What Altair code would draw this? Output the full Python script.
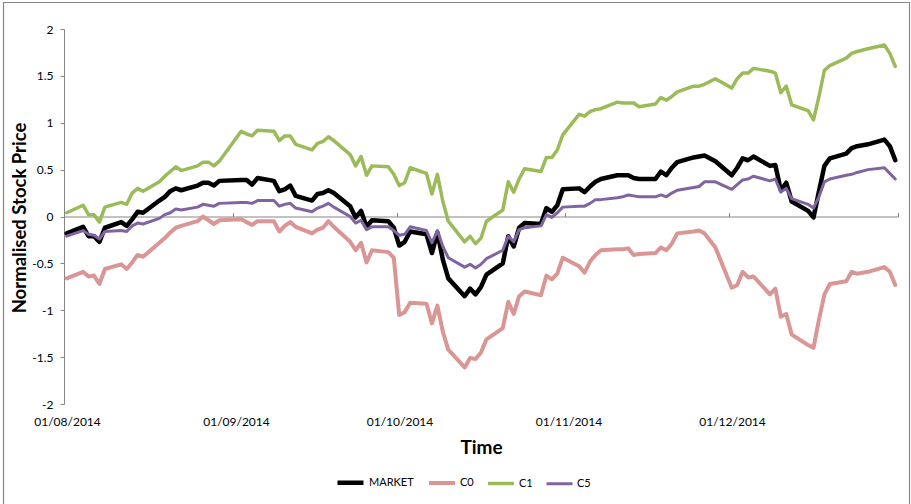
import altair as alt
import pandas as pd

# Trading days per month (US market calendar, Aug-Dec 2014)
AUG_DAYS = [1, 4, 5, 6, 7, 8, 11, 12, 13, 14, 15, 18, 19, 20, 21, 22, 25, 26, 27, 28, 29]
SEP_DAYS = [2, 3, 4, 5, 8, 9, 10, 11, 12, 15, 16, 17, 18, 19, 22, 23, 24, 25, 26, 29, 30]
OCT_DAYS = [1, 2, 3, 6, 7, 8, 9, 10, 13, 14, 15, 16, 17, 20, 21, 22, 23, 24, 27, 28, 29, 30, 31]
NOV_DAYS = [3, 4, 5, 6, 7, 10, 11, 12, 13, 14, 17, 18, 19, 20, 21, 24, 25, 26, 28]
DEC_DAYS = [1, 2, 3, 4, 5, 8, 9, 10, 11, 12, 15, 16, 17, 18, 19, 22, 23, 24, 26, 29, 30, 31]

# Normalised prices, one value per trading day
MARKET = [
    -0.18, -0.11, -0.21, -0.21, -0.27, -0.12, -0.06, -0.10, -0.03, 0.05, 0.04, 0.17, 0.21, 0.27, 0.30, 0.28, 0.33, 0.36, 0.36, 0.33, 0.38,
    0.39, 0.39, 0.34, 0.41, 0.38, 0.27, 0.29, 0.33, 0.22, 0.17, 0.24, 0.25, 0.28, 0.25, 0.11, -0.01, 0.06, -0.11, -0.04, -0.05, -0.12,
    -0.31, -0.27, -0.16, -0.19, -0.39, -0.17, -0.46, -0.66, -0.85, -0.77, -0.83, -0.75, -0.62, -0.50, -0.21, -0.32, -0.12, -0.07, -0.08, 0.09, 0.05, 0.12, 0.29,
    0.30, 0.26, 0.32, 0.37, 0.40, 0.44, 0.44, 0.44, 0.41, 0.40, 0.40, 0.48, 0.44, 0.52, 0.58, 0.63, 0.64, 0.65, 0.59,
    0.44, 0.52, 0.62, 0.60, 0.64, 0.54, 0.55, 0.28, 0.36, 0.16, 0.06, -0.01, 0.27, 0.54, 0.62, 0.67, 0.73, 0.75, 0.77, 0.82, 0.75, 0.60,
]
C0 = [
    -0.66, -0.59, -0.64, -0.63, -0.72, -0.56, -0.51, -0.56, -0.49, -0.41, -0.43, -0.28, -0.23, -0.17, -0.12, -0.10, -0.05, 0.00, -0.04, -0.08, -0.04,
    -0.03, -0.06, -0.09, -0.05, -0.05, -0.16, -0.10, -0.06, -0.11, -0.18, -0.14, -0.12, -0.05, -0.11, -0.27, -0.36, -0.28, -0.49, -0.36, -0.38, -0.44,
    -1.05, -1.02, -0.92, -0.93, -1.14, -0.95, -1.23, -1.42, -1.61, -1.51, -1.52, -1.45, -1.31, -1.19, -0.91, -1.04, -0.85, -0.80, -0.84, -0.63, -0.67, -0.61, -0.44,
    -0.53, -0.60, -0.48, -0.41, -0.36, -0.35, -0.35, -0.34, -0.41, -0.40, -0.39, -0.33, -0.36, -0.29, -0.18, -0.16, -0.15, -0.18, -0.33,
    -0.76, -0.73, -0.59, -0.65, -0.64, -0.83, -0.77, -1.07, -1.04, -1.26, -1.37, -1.40, -1.10, -0.83, -0.72, -0.69, -0.59, -0.61, -0.59, -0.54, -0.59, -0.73,
]
C1 = [
    0.04, 0.12, 0.02, 0.02, -0.06, 0.10, 0.15, 0.13, 0.25, 0.30, 0.27, 0.37, 0.43, 0.48, 0.53, 0.49, 0.54, 0.58, 0.58, 0.54, 0.59,
    0.91, 0.88, 0.86, 0.92, 0.91, 0.81, 0.86, 0.86, 0.77, 0.71, 0.78, 0.80, 0.85, 0.81, 0.66, 0.54, 0.64, 0.44, 0.54, 0.53, 0.45,
    0.33, 0.36, 0.52, 0.46, 0.24, 0.45, 0.16, -0.05, -0.27, -0.21, -0.29, -0.23, -0.05, 0.07, 0.37, 0.26, 0.40, 0.51, 0.48, 0.63, 0.63, 0.71, 0.87,
    1.09, 1.07, 1.12, 1.14, 1.15, 1.22, 1.21, 1.21, 1.21, 1.17, 1.20, 1.27, 1.24, 1.28, 1.33, 1.39, 1.39, 1.41, 1.47,
    1.37, 1.47, 1.53, 1.53, 1.58, 1.55, 1.53, 1.32, 1.39, 1.19, 1.13, 1.03, 1.28, 1.56, 1.61, 1.69, 1.74, 1.76, 1.79, 1.83, 1.74, 1.60,
]
C5 = [
    -0.21, -0.15, -0.19, -0.20, -0.24, -0.16, -0.15, -0.16, -0.10, -0.07, -0.08, -0.02, 0.02, 0.04, 0.08, 0.07, 0.10, 0.13, 0.12, 0.11, 0.14,
    0.15, 0.15, 0.14, 0.17, 0.17, 0.11, 0.13, 0.14, 0.09, 0.05, 0.09, 0.11, 0.14, 0.10, 0.00, -0.07, -0.04, -0.14, -0.11, -0.11, -0.15,
    -0.20, -0.19, -0.11, -0.15, -0.28, -0.15, -0.32, -0.44, -0.54, -0.51, -0.55, -0.51, -0.45, -0.36, -0.21, -0.27, -0.14, -0.12, -0.10, 0.02, -0.01, 0.04, 0.10,
    0.11, 0.11, 0.14, 0.18, 0.18, 0.20, 0.21, 0.23, 0.22, 0.21, 0.21, 0.23, 0.21, 0.25, 0.28, 0.31, 0.32, 0.37, 0.37,
    0.29, 0.34, 0.39, 0.40, 0.43, 0.38, 0.40, 0.26, 0.30, 0.19, 0.13, 0.09, 0.21, 0.37, 0.40, 0.44, 0.45, 0.47, 0.50, 0.52, 0.46, 0.40,
]

SERIES_NAMES = ["MARKET", "C0", "C1", "C5"]
SERIES_COLORS = ["#000000", "#D99694", "#9BBB59", "#8064A2"]
SERIES_WIDTHS = [4.5, 3, 3, 3]
Y_TICKS = [-2, -1.5, -1, -0.5, 0, 0.5, 1, 1.5, 2]

# Build the long-form table; each price sits at mid-day of its trading date
dates = []
for month, days in [(8, AUG_DAYS), (9, SEP_DAYS), (10, OCT_DAYS), (11, NOV_DAYS), (12, DEC_DAYS)]:
    dates += [f"2014-{month:02d}-{d:02d}T12:00:00" for d in days]

rows = []
for name, vals in zip(SERIES_NAMES, [MARKET, C0, C1, C5]):
    for dt, v in zip(dates, vals):
        rows.append({"date": dt, "series": name, "value": v})
df = pd.DataFrame(rows)

GRAY = "#868686"
FONT = "Lato"
W, H = 834, 375

month_starts = [alt.DateTime(year=2014, month=m, date=1) for m in (8, 9, 10, 11, 12)]
x_domain = [alt.DateTime(year=2014, month=8, date=1), alt.DateTime(year=2015, month=1, date=1)]
x_scale = alt.Scale(domain=x_domain)
y_scale = alt.Scale(domain=[-2, 2], nice=False, zero=False)

# Horizontal axis line crosses at zero, with upward month ticks
zero_axis = alt.Axis(
    orient="top", offset=-H / 2, labels=False, title=None, grid=False,
    values=month_starts + [alt.DateTime(year=2015, month=1, date=1)],
    tickSize=4, tickColor=GRAY, domainColor=GRAY, tickWidth=1, domainWidth=1,
)
# Date labels and the axis title sit below the plot
label_axis = alt.Axis(
    orient="bottom", domain=False, ticks=False, grid=False,
    values=month_starts, format="%d/%m/%Y", labelPadding=12, labelFlush=False,
    labelAlign="center", labelOffset=3,
    labelFont=FONT, labelFontSize=12, labelColor="#000000",
    title="Time", titleFont=FONT, titleFontSize=19, titleFontWeight="bold",
    titleColor="#000000", titleBaseline="alphabetic", titleY=49, titleX=W / 2,
)
y_axis = alt.Axis(
    values=Y_TICKS, labelExpr="'' + datum.value", grid=False,
    tickSize=4, tickColor=GRAY, domainColor=GRAY, labelPadding=7,
    labelFont=FONT, labelFontSize=12, labelColor="#000000",
    title="Normalised Stock Price", titleFont=FONT, titleFontSize=18.5,
    titleFontWeight="bold", titleColor="#000000", titleAngle=270,
    titleBaseline="alphabetic", titleAlign="center", titleX=-39, titleY=188.5,
)

color = alt.Color("series:N", scale=alt.Scale(domain=SERIES_NAMES, range=SERIES_COLORS),
                  legend=alt.Legend(title=None))
width = alt.StrokeWidth("series:N", scale=alt.Scale(domain=SERIES_NAMES, range=SERIES_WIDTHS),
                        legend=alt.Legend(title=None))

line_layers = []
for i, name in enumerate(SERIES_NAMES):
    line_layers.append(
        alt.Chart(df)
        .transform_filter(alt.datum.series == name)
        .mark_line(strokeJoin="round", strokeCap="round")
        .encode(
            x=alt.X("date:T", scale=x_scale, axis=zero_axis if i == 0 else None),
            y=alt.Y("value:Q", scale=y_scale, axis=y_axis),
            color=color,
            strokeWidth=width,
        )
    )

label_layer = (
    alt.Chart(df)
    .mark_line(opacity=0)
    .encode(
        x=alt.X("date:T", scale=x_scale, axis=label_axis),
        y=alt.Y("value:Q", scale=y_scale),
        detail="series:N",
    )
)

frame = (
    alt.Chart(pd.DataFrame({"k": [0]}))
    .mark_rect(fill="transparent", stroke=GRAY, strokeWidth=1.2, clip=False)
    .encode(x=alt.value(-60.5), x2=alt.value(845.5), y=alt.value(-26.5), y2=alt.value(485))
)

chart = (
    alt.layer(frame, *line_layers, label_layer)
    .resolve_axis(x="independent")
    .properties(
        width=W, height=H,
        autosize=alt.AutoSizeParams(type="none"),
        padding={"left": 64, "top": 29, "right": 13, "bottom": 100},
        background="#ffffff",
    )
    .configure_view(stroke=None)
    .configure_legend(
        orient="none", direction="horizontal", legendX=271, legendY=438,
        symbolType="stroke", symbolSize=676, labelFont=FONT, labelFontSize=11,
        labelColor="#000000", labelOffset=3, columnPadding=7,
    )
)

chart.save("out.html", embed_options={"renderer": "svg", "actions": False})
